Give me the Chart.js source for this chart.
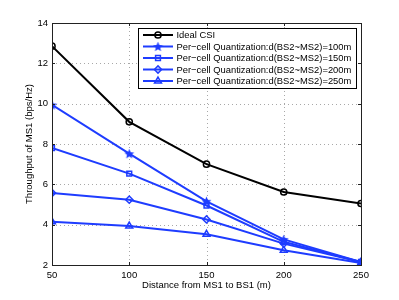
<!DOCTYPE html>
<html>
<head>
<meta charset="utf-8">
<script src="https://cdn.jsdelivr.net/npm/chart.js@4.4.1/dist/chart.umd.min.js"></script>
<style>
  html, body { margin: 0; padding: 0; background: #fff; }
  #c { display: block; }
</style>
</head>
<body>
<canvas id="c" width="399" height="300"></canvas>
<script>
// ---------------------------------------------------------------------------
// Data
// ---------------------------------------------------------------------------
const distances = [50, 100, 150, 200, 250];
const idealCsi  = [12.85, 9.1, 7.0, 5.62, 5.05];
const quant100  = [9.94, 7.52, 5.16, 3.27, 2.15];
const quant150  = [7.8, 6.53, 4.95, 3.15, 2.15];
const quant200  = [5.57, 5.24, 4.26, 3.06, 2.15];
const quant250  = [4.14, 3.93, 3.52, 2.73, 2.1];
const xTicks = [50, 100, 150, 200, 250];
const yTicks = [2, 4, 6, 8, 10, 12, 14];

const seriesLabels = [
    'Ideal CSI',
    'Per\u2212cell Quantization:d(BS2~MS2)=100m',
    'Per\u2212cell Quantization:d(BS2~MS2)=150m',
    'Per\u2212cell Quantization:d(BS2~MS2)=200m',
    'Per\u2212cell Quantization:d(BS2~MS2)=250m',
];

const BLUE = 'rgb(30,60,255)';
const FONT = '"Liberation Sans", Arial, Helvetica, sans-serif';

// pentagram marker (MATLAB 'p')
function makeStar(size, color) {
    const cv = document.createElement('canvas');
    cv.width = size; cv.height = size;
    const ctx = cv.getContext('2d');
    const cx = size / 2, cy = size / 2 + 0.5;
    const ro = size / 2 - 0.3, ri = ro * 0.45;
    ctx.beginPath();
    for (let i = 0; i < 10; i++) {
        const r = i % 2 === 0 ? ro : ri;
        const a = -Math.PI / 2 + i * Math.PI / 5;
        const px = cx + r * Math.cos(a), py = cy + r * Math.sin(a);
        if (i === 0) ctx.moveTo(px, py); else ctx.lineTo(px, py);
    }
    ctx.closePath();
    ctx.fillStyle = color;
    ctx.fill();
    return cv;
}
const starImg = makeStar(11, BLUE);

function toPoints(values) {
    return distances.map((d, i) => ({ x: d, y: values[i] }));
}

const seriesDefs = [
    { values: idealCsi, color: '#000', style: 'circle', radius: 3.1 },
    { values: quant100, color: BLUE, style: starImg, radius: 5 },
    { values: quant150, color: BLUE, style: 'rect', radius: 3.4 },
    { values: quant200, color: BLUE, style: 'rectRot', radius: 3.6 },
    { values: quant250, color: BLUE, style: 'triangle', radius: 4 },
];

const datasets = seriesDefs.map((s, i) => ({
    label: seriesLabels[i],
    data: toPoints(s.values),
    borderColor: s.color,
    backgroundColor: 'rgba(255,255,255,0)',
    borderWidth: 2,
    pointStyle: s.style,
    pointRadius: s.radius,
    pointBorderWidth: 1.5,
    pointBorderColor: s.color,
    pointBackgroundColor: 'rgba(255,255,255,0)',
    tension: 0,
}));

// ---------------------------------------------------------------------------
// Plugin: MATLAB-style frame, dotted grid, inner ticks, titles and legend
// ---------------------------------------------------------------------------
const matlabFrame = {
    id: 'matlabFrame',
    beforeDatasetsDraw(chart) {
        const { ctx, chartArea: a, scales } = chart;
        ctx.save();
        ctx.strokeStyle = '#a8a8a8';
        ctx.lineWidth = 1;
        ctx.setLineDash([1, 3]);
        xTicks.slice(1, -1).forEach(v => {
            const px = Math.round(scales.x.getPixelForValue(v)) + 0.5;
            ctx.beginPath(); ctx.moveTo(px, a.top); ctx.lineTo(px, a.bottom); ctx.stroke();
        });
        yTicks.slice(1, -1).forEach(v => {
            const py = Math.round(scales.y.getPixelForValue(v)) + 0.5;
            ctx.beginPath(); ctx.moveTo(a.left, py); ctx.lineTo(a.right, py); ctx.stroke();
        });
        ctx.restore();
    },
    afterDraw(chart) {
        const { ctx, chartArea: a, scales } = chart;
        ctx.save();
        // frame
        ctx.strokeStyle = '#222';
        ctx.lineWidth = 1;
        ctx.setLineDash([]);
        ctx.strokeRect(Math.round(a.left) + 0.5, Math.round(a.top) + 0.5,
            Math.round(a.right - a.left), Math.round(a.bottom - a.top));
        // inner ticks
        const tl = 3;
        xTicks.forEach(v => {
            const px = Math.round(scales.x.getPixelForValue(v)) + 0.5;
            ctx.beginPath();
            ctx.moveTo(px, a.bottom); ctx.lineTo(px, a.bottom - tl);
            ctx.moveTo(px, a.top); ctx.lineTo(px, a.top + tl);
            ctx.stroke();
        });
        yTicks.forEach(v => {
            const py = Math.round(scales.y.getPixelForValue(v)) + 0.5;
            ctx.beginPath();
            ctx.moveTo(a.left, py); ctx.lineTo(a.left + tl, py);
            ctx.moveTo(a.right, py); ctx.lineTo(a.right - tl, py);
            ctx.stroke();
        });

        // axis titles
        ctx.fillStyle = '#000';
        ctx.font = '9.5px ' + FONT;
        ctx.textAlign = 'center';
        ctx.textBaseline = 'middle';
        ctx.fillText('Distance from MS1 to BS1 (m)', (a.left + a.right) / 2, 285);
        ctx.save();
        ctx.translate(29, (a.top + a.bottom) / 2);
        ctx.rotate(-Math.PI / 2);
        ctx.fillText('Throughput of MS1 (bps/Hz)', 0, 0);
        ctx.restore();

        // legend
        const box = { x: 138.5, y: 28.5, w: 218, h: 60 };
        ctx.fillStyle = '#fff';
        ctx.fillRect(box.x, box.y, box.w, box.h);
        ctx.strokeStyle = '#000';
        ctx.lineWidth = 1;
        ctx.strokeRect(box.x, box.y, box.w, box.h);
        ctx.font = '9.4px ' + FONT;
        ctx.textAlign = 'left';
        seriesDefs.forEach((s, i) => {
            const yy = 35 + i * 11.5;
            ctx.strokeStyle = s.color;
            ctx.lineWidth = 2;
            ctx.beginPath(); ctx.moveTo(143, yy); ctx.lineTo(173, yy); ctx.stroke();
            ctx.lineWidth = 1.5;
            ctx.fillStyle = 'rgba(255,255,255,0)';
            Chart.helpers.drawPoint(ctx, {
                pointStyle: s.style, radius: s.radius, rotation: 0, borderWidth: 1.5,
            }, 158, yy);
            ctx.fillStyle = '#000';
            ctx.fillText(seriesLabels[i], 176.5, yy + 0.5);
        });
        ctx.restore();
    },
};

new Chart(document.getElementById('c'), {
    type: 'line',
    data: { datasets },
    plugins: [matlabFrame],
    options: {
        responsive: false,
        animation: false,
        layout: { padding: { top: 23, right: 38, left: 0, bottom: 0 } },
        plugins: { legend: { display: false }, tooltip: { enabled: false } },
        scales: {
            x: {
                type: 'linear',
                min: 50, max: 250,
                afterBuildTicks: scale => { scale.ticks = xTicks.map(v => ({ value: v })); },
                afterFit: scale => { scale.height = 35; },
                grid: { display: false, drawTicks: false },
                border: { display: false },
                ticks: { color: '#000', padding: 5, maxRotation: 0, font: { family: FONT, size: 9.5 } },
            },
            y: {
                type: 'linear',
                min: 2, max: 14,
                afterBuildTicks: scale => { scale.ticks = yTicks.map(v => ({ value: v })); },
                afterFit: scale => { scale.width = 52; },
                grid: { display: false, drawTicks: false },
                border: { display: false },
                ticks: { color: '#000', padding: 4, font: { family: FONT, size: 9.5 } },
            },
        },
    },
});
</script>
</body>
</html>
